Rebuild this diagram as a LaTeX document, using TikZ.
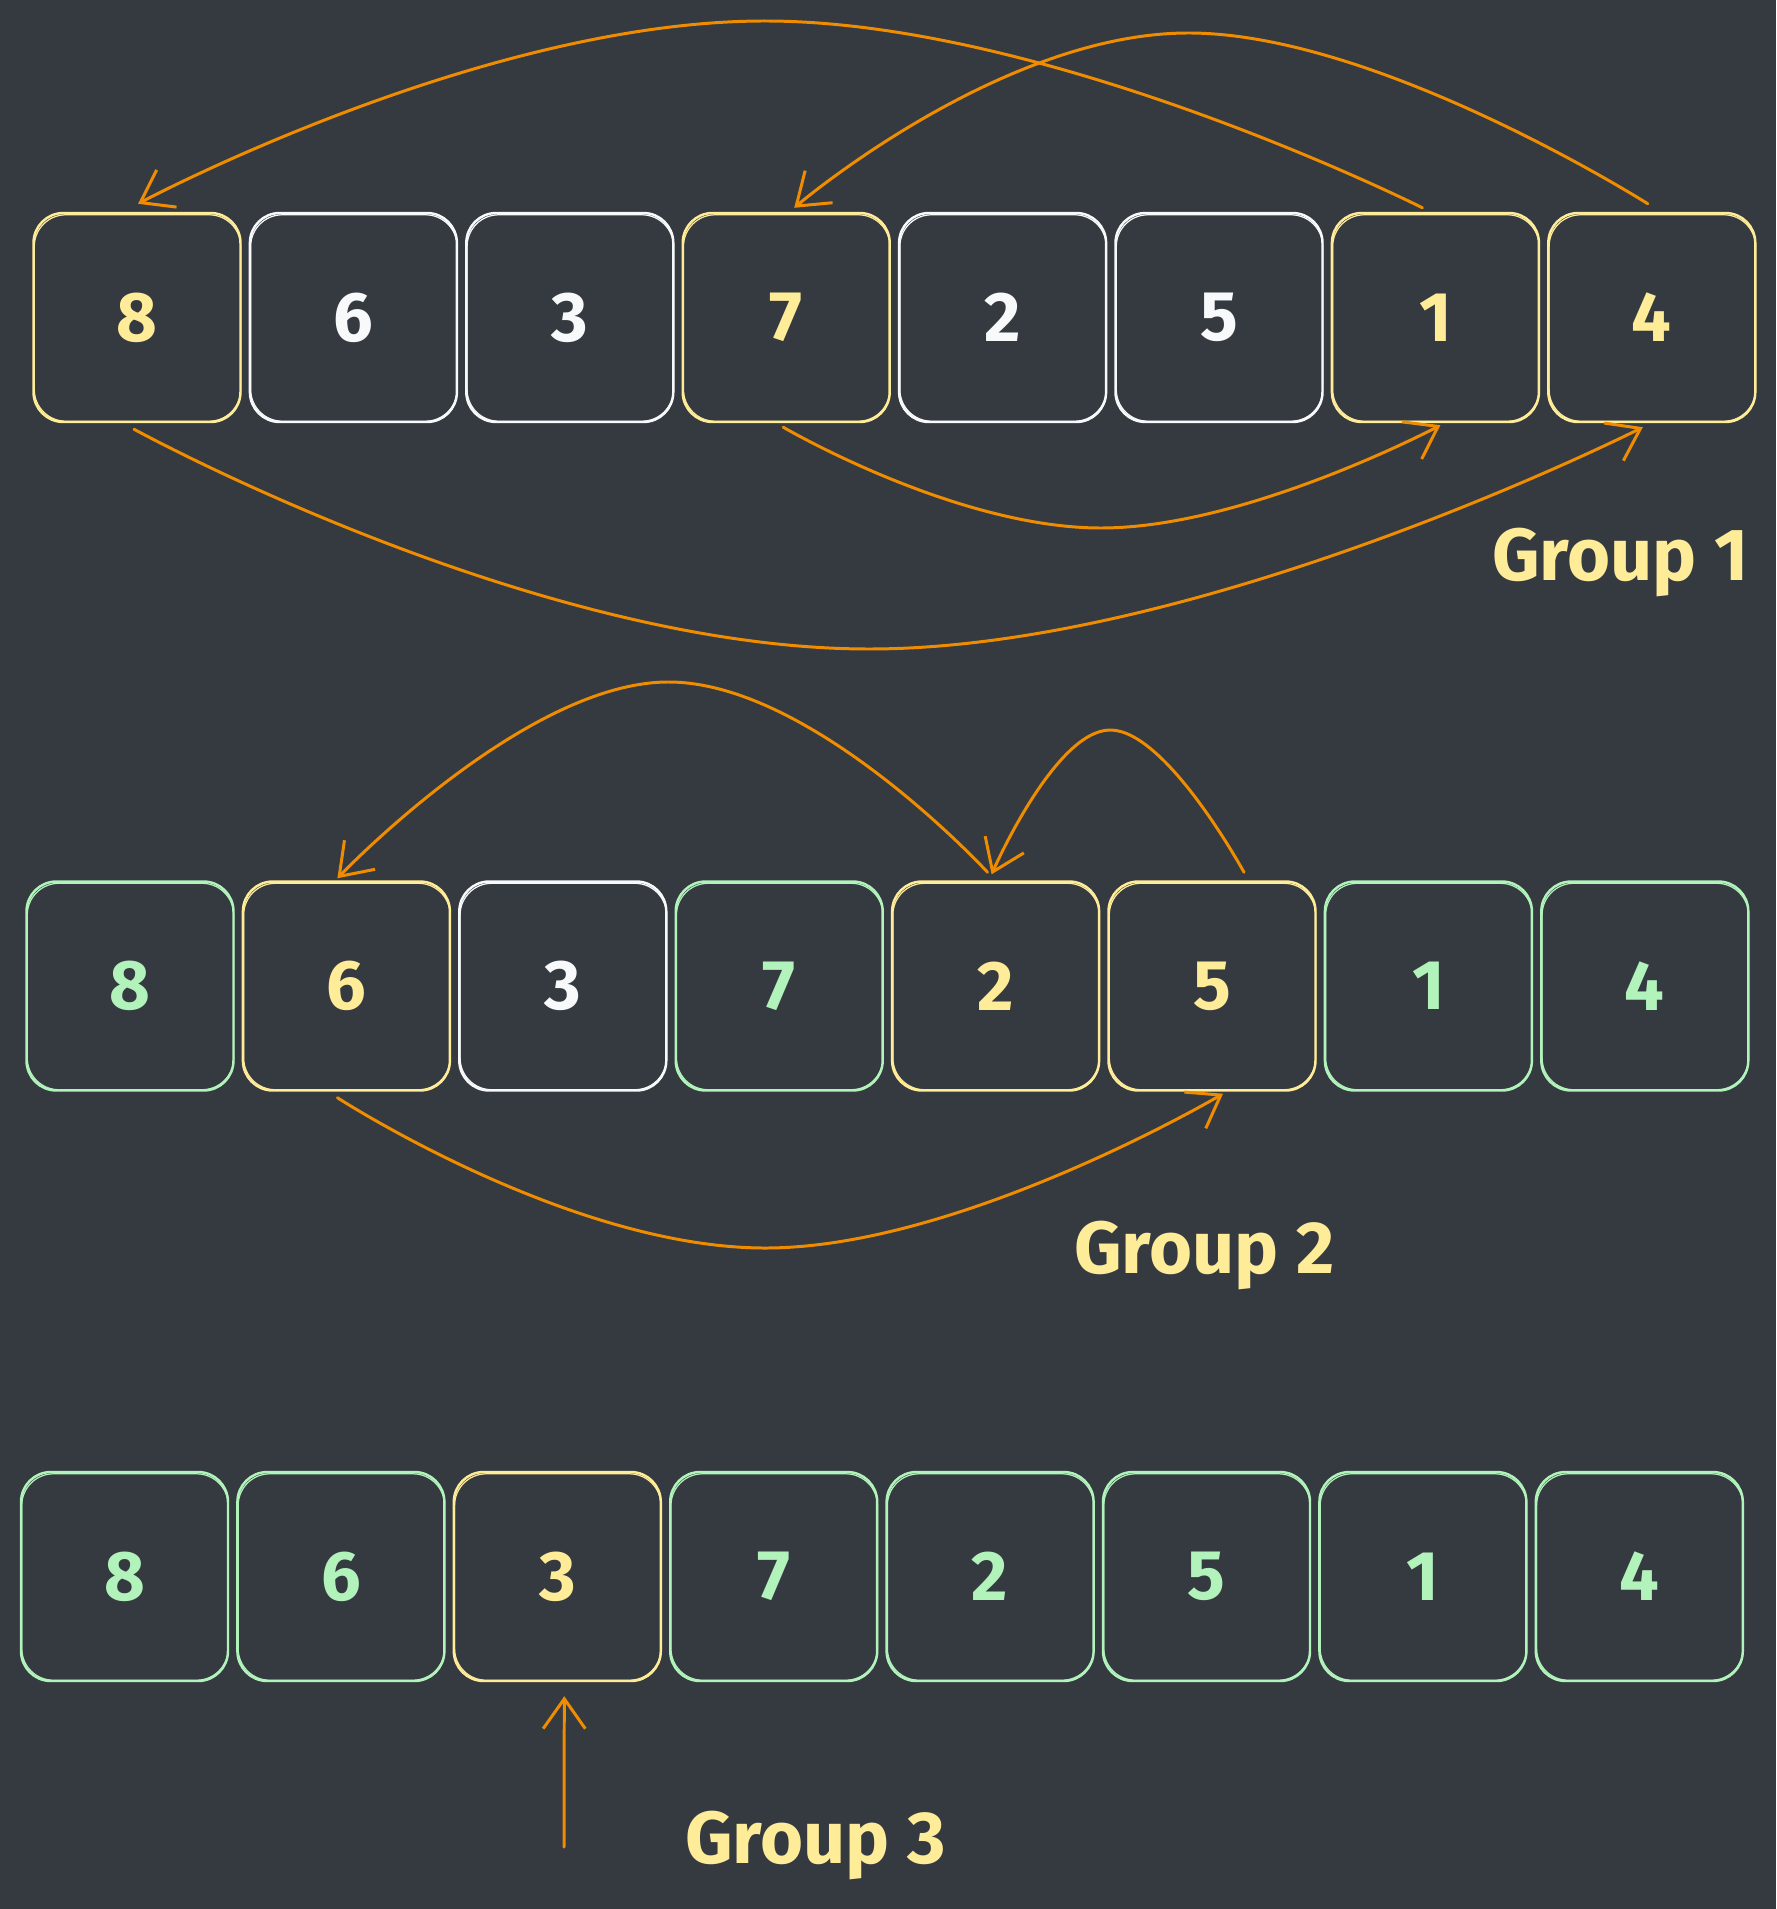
\documentclass[tikz,border=0pt]{standalone}
\usepackage{fontspec}
\setmainfont{Fira Sans}
\usetikzlibrary{arrows.meta,calc}
\definecolor{bg}{HTML}{343A40}
\definecolor{yel}{HTML}{FFEC99}
\definecolor{grn}{HTML}{B2F2BB}
\definecolor{wht}{HTML}{F8F9FA}
\definecolor{org}{HTML}{F08C00}
\begin{document}
\begin{tikzpicture}[x=0.02cm,y=-0.02cm,
  cell/.style={draw=#1, text=#1, line width=1.4pt, rounded corners=17pt,
    minimum width=4.14cm, minimum height=4.18cm, inner sep=0pt,
    font=\fontsize{40}{40}\selectfont\bfseries},
  sketch/.style={draw=#1, line width=0.7pt, rounded corners=18pt},
  arr/.style={draw=org, line width=1.7pt, -{Straight Barb[length=17pt,width=24pt]},
    line cap=round, line join=round},
  grp/.style={text=yel, font=\fontsize{42}{42}\selectfont\bfseries, anchor=base west, inner sep=0pt}]
\fill[bg] (0,0) rectangle (1776,1909);
\useasboundingbox (0,0) rectangle (1776,1909);

% Row 1
\foreach \d/\c [count=\i from 0] in {8/yel,6/wht,3/wht,7/yel,2/wht,5/wht,1/yel,4/yel}{
  \node[cell=\c] (a\i) at (137+216.4*\i,317.5) {\d};
  \draw[sketch=\c] ($(a\i.south west)+(2,-2)$) rectangle ($(a\i.north east)+(-1,3)$);}
% Row 2
\foreach \d/\c [count=\i from 0] in {8/grn,6/yel,3/wht,7/grn,2/yel,5/yel,1/grn,4/grn}{
  \node[cell=\c] (b\i) at (130+216.4*\i,986) {\d};
  \draw[sketch=\c] ($(b\i.south west)+(2,-2)$) rectangle ($(b\i.north east)+(-1,3)$);}
% Row 3
\foreach \d/\c [count=\i from 0] in {8/grn,6/grn,3/yel,7/grn,2/grn,5/grn,1/grn,4/grn}{
  \node[cell=\c] (c\i) at (124.5+216.4*\i,1576.5) {\d};
  \draw[sketch=\c] ($(c\i.south west)+(2,-2)$) rectangle ($(c\i.north east)+(-1,3)$);}

% Group labels
\node[grp] (g1) at (1492,580) {Group 1};
\node[grp] (g2) at (1074,1273) {Group 2};
\node[grp] (g3) at (685,1863) {Group 3};

% Row 1 arrows
\draw[arr] plot[smooth, tension=0.8] coordinates {($(a6.north)+(-13,-4)$) (767,21) ($(a0.north)+(1,-8)$)};
\draw[arr] plot[smooth, tension=0.8] coordinates {($(a7.north)+(-4,-8)$) (1187,33) ($(a3.north)+(8,-4)$)};
\draw[arr] plot[smooth, tension=0.8] coordinates {($(a0.south)+(-3,6)$) (870,649) ($(a7.south)+(-9,4)$)};
\draw[arr] plot[smooth, tension=0.8] coordinates {($(a3.south)+(-3,4)$) (1102,528) ($(a6.south)+(5,2)$)};

% Row 2 arrows
\draw[arr] plot[smooth, tension=0.8] coordinates {($(b4.north)+(-8,-8)$) (667,682) ($(b1.north)+(-9,-2)$)};
\draw[arr] plot[smooth, tension=0.8] coordinates {($(b5.north)+(32,-8)$) (1110,730) ($(b4.north)+(-4,-6)$)};
\draw[arr] plot[smooth, tension=0.8] coordinates {($(b1.south)+(-9,6)$) (767,1248) ($(b5.south)+(11,2)$)};

% Row 3 arrow
\coordinate (s3) at (564,1847);
\draw[arr] (s3) -- ($(c2.south)+(7,14)$);
\end{tikzpicture}
\end{document}
